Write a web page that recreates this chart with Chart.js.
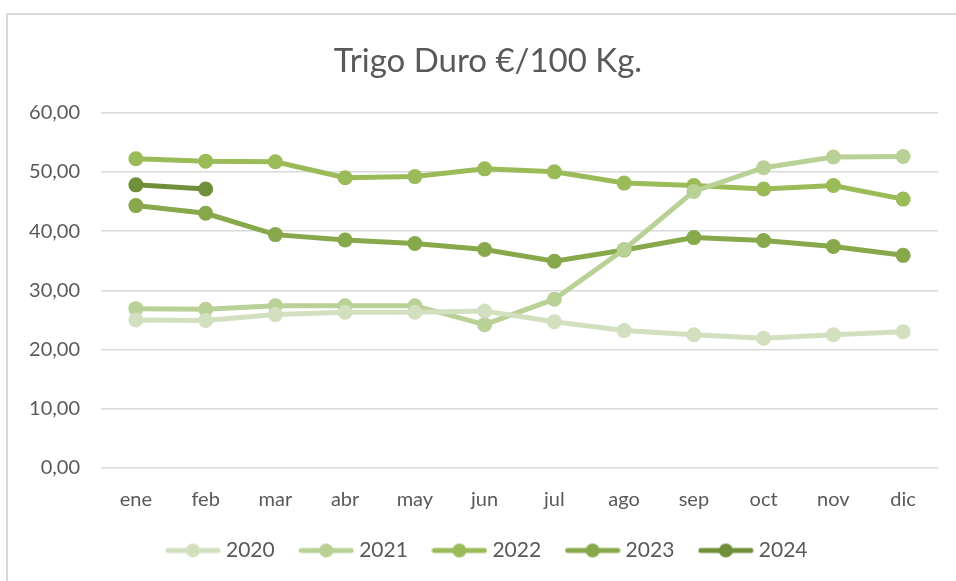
<!DOCTYPE html>
<html>
<head>
<meta charset="utf-8">
<script src="https://cdn.jsdelivr.net/npm/chart.js@4.4.1/dist/chart.umd.min.js"></script>
<style>
  html, body { margin: 0; padding: 0; background: #fff; }
  #wrap { width: 956px; height: 581px; position: relative; }
</style>
</head>
<body>
<div id="wrap"><canvas id="chart" width="956" height="581"></canvas></div>
<script>
// data
const months = ['ene', 'feb', 'mar', 'abr', 'may', 'jun', 'jul', 'ago', 'sep', 'oct', 'nov', 'dic'];
const y2020 = [25.0, 24.9, 25.9, 26.3, 26.3, 26.5, 24.7, 23.2, 22.5, 21.9, 22.5, 23.0];
const y2021 = [26.9, 26.8, 27.4, 27.4, 27.4, 24.2, 28.5, 36.9, 46.7, 50.7, 52.5, 52.6];
const y2022 = [52.2, 51.8, 51.7, 49.0, 49.2, 50.5, 50.0, 48.1, 47.7, 47.1, 47.7, 45.4];
const y2023 = [44.3, 43.0, 39.4, 38.5, 37.9, 36.9, 34.9, 36.8, 38.9, 38.4, 37.4, 35.9];
const y2024 = [47.8, 47.1];
const yTicks = [0, 10, 20, 30, 40, 50, 60];

const colors = ['#d3e0c0', '#b9d196', '#9bbb59', '#87a84b', '#718f3b'];
const font = 'Lato, "Open Sans", sans-serif';
const textColor = '#595959';

// little line+dot picture for the legend, like Excel's
function legendMark(color) {
  const c = document.createElement('canvas');
  c.width = 56; c.height = 16;
  const g = c.getContext('2d');
  g.strokeStyle = color;
  g.lineWidth = 5;
  g.lineCap = 'round';
  g.beginPath();
  g.moveTo(3, 8); g.lineTo(53, 8);
  g.stroke();
  g.fillStyle = color;
  g.beginPath();
  g.arc(28, 8, 7, 0, Math.PI * 2);
  g.fill();
  return c;
}

function series(label, data, color) {
  return {
    label: label,
    data: data,
    borderColor: color,
    backgroundColor: color,
    borderWidth: 5,
    pointRadius: 7.5,
    pointHoverRadius: 7.5,
    pointBorderWidth: 0,
    pointBackgroundColor: color,
    tension: 0,
    fill: false
  };
}

const frame = {
  id: 'frame',
  afterLayout(chart) {
    // title and legend sit a bit right of the plot centre in the original
    chart.titleBlock.left += 9; chart.titleBlock.right += 9;
    chart.legend.left += 10; chart.legend.right += 10;
  },
  beforeDraw(chart) {
    const ctx = chart.ctx;
    ctx.save();
    ctx.strokeStyle = '#d9d9d9';
    ctx.lineWidth = 2;
    ctx.beginPath();
    ctx.moveTo(7, 581);
    ctx.lineTo(7, 14);
    ctx.lineTo(956, 14);
    ctx.stroke();
    ctx.restore();
  }
};

new Chart(document.getElementById('chart').getContext('2d'), {
  type: 'line',
  data: {
    labels: months,
    datasets: [
      series('2020', y2020, colors[0]),
      series('2021', y2021, colors[1]),
      series('2022', y2022, colors[2]),
      series('2023', y2023, colors[3]),
      series('2024', y2024, colors[4])
    ]
  },
  options: {
    responsive: false,
    animation: false,
    layout: { padding: { left: 20, right: 18, top: 20, bottom: 10 } },
    plugins: {
      title: {
        display: true,
        text: 'Trigo Duro €/100 Kg.',
        color: textColor,
        font: { family: font, size: 33, weight: 'normal' },
        padding: { top: 22, bottom: 31 }
      },
      legend: {
        position: 'bottom',
        labels: {
          color: textColor,
          font: { family: font, size: 21 },
          usePointStyle: true,
          pointStyleWidth: 45,
          padding: 29,
          generateLabels(chart) {
            return chart.data.datasets.map((ds, i) => ({
              text: ds.label,
              pointStyle: legendMark(ds.borderColor),
              fillStyle: ds.borderColor,
              strokeStyle: ds.borderColor,
              lineWidth: 0,
              fontColor: textColor,
              datasetIndex: i
            }));
          }
        }
      },
      tooltip: { enabled: false }
    },
    scales: {
      x: {
        offset: true,
        afterFit(scale) { scale.height = 43; },
        grid: { display: false, drawTicks: false },
        border: { display: false },
        ticks: { color: textColor, font: { family: font, size: 20 }, padding: 20, maxRotation: 0 }
      },
      y: {
        min: 0,
        max: 60,
        afterFit(scale) { scale.width = 81; },
        afterBuildTicks(scale) { scale.ticks = yTicks.map(v => ({ value: v })); },
        grid: { color: '#d9d9d9', lineWidth: 1.5, drawTicks: false },
        border: { display: false },
        ticks: {
          color: textColor,
          font: { family: font, size: 20 },
          padding: 21,
          callback: v => v.toFixed(2).replace('.', ',')
        }
      }
    }
  },
  plugins: [frame]
});
</script>
</body>
</html>
